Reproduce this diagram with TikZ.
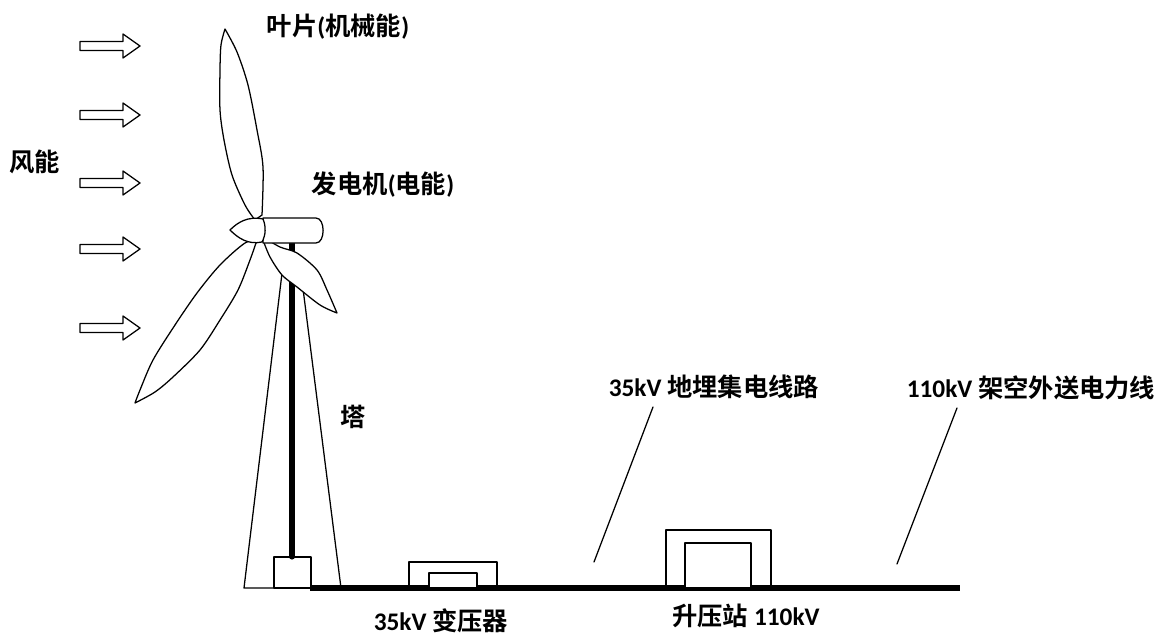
\documentclass[tikz,border=0pt]{standalone}
\usepackage{fontspec}
\setmainfont{Carlito}
\newfontfamily\cjk{Noto Sans CJK SC}[BoldFont={Noto Sans CJK SC Bold}]

\tikzset{
  lbl/.style={font=\fontsize{18}{20}\selectfont\bfseries, inner sep=0pt},
  thinline/.style={line width=0.9pt},
  thickline/.style={line width=3.6pt},
}

\begin{document}
\begin{tikzpicture}[x=0.025cm, y=-0.025cm, line join=round, line cap=round]
\useasboundingbox (0,0) rectangle (1166,637);

% wind arrows
\foreach \y in {46,115,183,249,328}
  \draw[thinline] (80,\y-4.5) -- (123,\y-4.5) -- (123,\y-12) -- (140,\y)
    -- (123,\y+12) -- (123,\y+4.5) -- (80,\y+4.5) -- cycle;

% tower, pole and foot
\draw[thinline] (283,265) -- (244,588) -- (310,588);
\draw[thinline] (300,265) -- (341,588);
\draw[thickline] (292,243) -- (292,557);
\draw[thinline] (274,557) rectangle (311,588);

% ground cable
\draw[thickline, line cap=butt] (310,588) -- (960,588);

% 35kV transformer
\draw[thinline] (409,562) rectangle (497,588);
\draw[thinline, fill=white] (429,573) rectangle (477,588);

% step-up station
\draw[thinline] (666,530) rectangle (771,588);
\draw[thinline, fill=white] (685,543) rectangle (751,588);

% blades
\draw[thinline, fill=white]
  plot[smooth] coordinates {(225,29) (237,52) (248,85) (257,130) (263,167) (262,215)}
  -- plot[smooth] coordinates {(255,220) (245,205) (232,175) (224,140) (220,110) (220,70) (221,45) (225,29)}
  -- cycle;
\draw[thinline, fill=white]
  plot[smooth] coordinates {(262,238) (245,243) (220,265) (197,293) (175,325) (153,360) (140,390) (135,403)}
  -- plot[smooth] coordinates {(135,403) (155,392) (173,377) (200,350) (220,320) (238,290) (250,260) (256,243)}
  -- cycle;
\draw[thinline, fill=white]
  plot[smooth] coordinates {(263,237) (280,247) (297,253) (317,270) (327,290) (337,313)}
  -- plot[smooth] coordinates {(337,313) (320,305) (297,287) (282,275) (270,257) (263,240)}
  -- cycle;

% nacelle and spinner
\draw[thinline, fill=white] (263,218) -- (316,218) .. controls (325.5,218) and (325.5,243) .. (316,243) -- (263,243) -- cycle;
\draw[thinline, fill=white] (263,219) .. controls (248,216) and (238,222) .. (230,230)
  .. controls (238,238) and (248,245) .. (262,242) .. controls (266,235) and (266,226) .. (263,219);

% labels
\node[lbl] (wind) at (35,162) {\cjk 风能};
\node[lbl] (blade) at (338,27) {{\cjk 叶片}({\cjk 机械能})};
\node[lbl] (gen) at (383,185) {{\cjk 发电机}({\cjk 电能})};
\node[lbl] (tower) at (353,417) {\cjk 塔};
\node[lbl] (trafo) at (441,621) {35kV {\cjk 变压器}};
\node[lbl] (station) at (746,616) {{\cjk 升压站} 110kV};
\node[lbl] (cable) at (714,387) {35kV {\cjk 地埋集电线路}};
\node[lbl] (ohl) at (1031,388) {110kV {\cjk 架空外送电力线}};

% leaders
\coordinate (cable-top) at (653,407);
\coordinate (cable-foot) at (594,562);
\coordinate (ohl-top) at (957,408);
\coordinate (ohl-foot) at (897,564);
\draw[thinline] (cable-top) -- (cable-foot);
\draw[thinline] (ohl-top) -- (ohl-foot);
\end{tikzpicture}
\end{document}
